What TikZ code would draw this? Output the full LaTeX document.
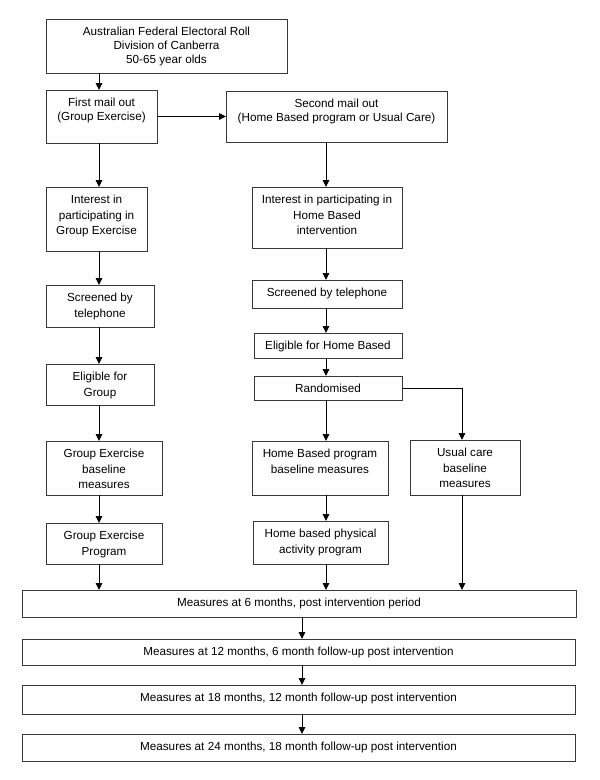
\documentclass[tikz,border=0pt]{standalone}
\usepackage{fontspec}
\setmainfont{Liberation Sans}
\usetikzlibrary{arrows.meta}
% #1 text style, #2 name, #3 x1, #4 y1, #5 x2, #6 y2, #7 text
\newcommand\flowbox[7][txt]{%
  \node[box, minimum width={(#5-#3)*1pt}, minimum height={(#6-#4)*1pt}] (#2) at (#3,#4) {};
  \node[#1] (#2-t) at ([yshift=-8pt]#2.north) {#7};
}
\begin{document}
\begin{tikzpicture}[x=1pt,y=-1pt,
  box/.style={draw=black!78, line width=0.8pt, inner sep=0pt, outer sep=0pt, anchor=north west},
  txt/.style={inner sep=0pt, align=center, anchor=north, font=\fontsize{11.7}{15.5}\selectfont},
  tighttxt/.style={txt, font=\fontsize{11.7}{13.8}\selectfont},
  arr/.style={-{Triangle[length=7pt,width=6.5pt]}, line width=0.9pt, black}]
\useasboundingbox (0,0) rectangle (600,780);
\coordinate (cA) at (99,0);
\coordinate (cB) at (326,0);
\coordinate (cC) at (462,0);
\coordinate (cM) at (302,0);

\flowbox[tighttxt]{top}{46}{19}{287}{73}{Australian Federal Electoral Roll\\Division of Canberra\\50-65 year olds}
\flowbox[tighttxt]{first}{46}{90}{157}{143}{First mail out\\(Group Exercise)}
\flowbox[tighttxt]{second}{226}{91}{447}{142}{Second mail out\\(Home Based program or Usual Care)}
\flowbox{intG}{46}{187}{147}{251}{Interest in\\participating in\\Group Exercise}
\flowbox{intH}{252}{187}{402}{248}{Interest in participating in\\Home Based\\intervention}
\flowbox{scrG}{46}{285}{154}{327}{Screened by\\telephone}
\flowbox{eliG}{46}{364}{154}{405}{Eligible for\\Group}
\flowbox{baseG}{46}{441}{162}{495}{Group Exercise\\baseline\\measures}
\flowbox{progG}{46}{523}{162}{564}{Group Exercise\\Program}
\flowbox{scrH}{252}{280}{402}{308}{Screened by telephone}
\flowbox{eliH}{254}{333}{402}{358}{Eligible for Home Based}
\flowbox{rand}{254}{376}{402}{400}{Randomised}
\flowbox{baseH}{252}{441}{388}{495}{Home Based program\\baseline measures}
\flowbox{usual}{410}{440}{520}{495}{Usual care\\baseline\\measures}
\flowbox{progH}{253}{521}{388}{564}{Home based physical\\activity program}
\flowbox{m6}{22}{590}{576}{617}{Measures at 6 months, post intervention period}
\flowbox{m12}{22}{639}{575}{665}{Measures at 12 months, 6 month follow-up post intervention}
\flowbox{m18}{22}{685}{575}{714}{Measures at 18 months, 12 month follow-up post intervention}
\flowbox{m24}{22}{734}{575}{761}{Measures at 24 months, 18 month follow-up post intervention}

\draw[arr] (top.south -| cA) -- (first.north -| cA);
\draw[arr] (first.east) -- (second.west);
\draw[arr] (first.south -| cA) -- (intG.north -| cA);
\draw[arr] (intG.south -| cA) -- (scrG.north -| cA);
\draw[arr] (scrG.south -| cA) -- (eliG.north -| cA);
\draw[arr] (eliG.south -| cA) -- (baseG.north -| cA);
\draw[arr] (baseG.south -| cA) -- (progG.north -| cA);
\draw[arr] (progG.south -| cA) -- (m6.north -| cA);

\draw[arr] (second.south -| cB) -- (intH.north -| cB);
\draw[arr] (intH.south -| cB) -- (scrH.north -| cB);
\draw[arr] (scrH.south -| cB) -- (eliH.north -| cB);
\draw[arr] (eliH.south -| cB) -- (rand.north -| cB);
\draw[arr] (rand.south -| cB) -- (baseH.north -| cB);
\draw[arr] (baseH.south -| cB) -- (progH.north -| cB);
\draw[arr] (progH.south -| cB) -- (m6.north -| cB);

\draw[arr] (rand.east) -| (usual.north -| cC);
\draw[arr] (usual.south -| cC) -- (m6.north -| cC);

\draw[arr] (m6.south -| cM) -- (m12.north -| cM);
\draw[arr] (m12.south -| cM) -- (m18.north -| cM);
\draw[arr] (m18.south -| cM) -- (m24.north -| cM);
\end{tikzpicture}
\end{document}
